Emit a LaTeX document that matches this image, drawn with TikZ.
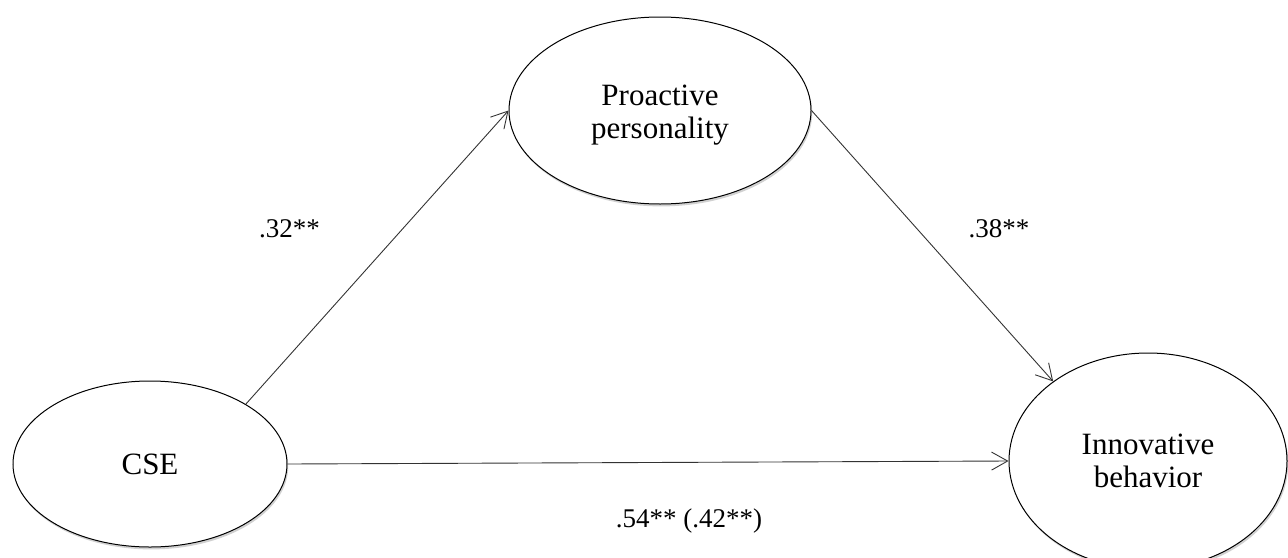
\documentclass[tikz,border=0pt]{standalone}
\usepackage{fontspec}
\setmainfont{Liberation Serif}
\usetikzlibrary{shapes.geometric,arrows.meta,shadows}
\begin{document}
\begin{tikzpicture}[x=0.5pt,y=-0.5pt,
  latent/.style={ellipse,draw=black,line width=0.5pt,fill=white,inner sep=0pt,align=center,
    font=\fontsize{15.5}{16.5}\selectfont,
    drop shadow={shadow xshift=0.6pt,shadow yshift=-1.2pt,opacity=0.18,fill=black}},
  lbl/.style={inner sep=0pt,align=center,font=\fontsize{15.5}{16.5}\selectfont},
  path/.style={draw=black!80,line width=0.45pt,-{Straight Barb[length=8pt,width=9pt,line width=0.45pt]}},
  coef/.style={anchor=base,inner sep=0pt,font=\fontsize{13.5}{15}\selectfont}]
\useasboundingbox (0,0) rectangle (1288,557);
\node[latent,minimum width=137pt,minimum height=83pt] (cse) at (150,464) {CSE};
\node[latent,minimum width=151pt,minimum height=93.5pt] (pp) at (660,110.5) {};
\node[lbl] (pptext) at (660,115) {Proactive\\personality};
\node[latent,minimum width=139pt,minimum height=108pt] (ib) at (1148,461) {Innovative\\behavior};
\draw[path] (cse.32) -- (pp.west);
\draw[path] (pp.east) -- (ib.140.6);
\draw[path] (cse.east) -- (ib.west);
\node[coef] (c1) at (289.5,237) {.32**};
\node[coef] (c2) at (999,237) {.38**};
\node[coef] (c3) at (689,527) {.54** (.42**)};
\end{tikzpicture}
\end{document}
